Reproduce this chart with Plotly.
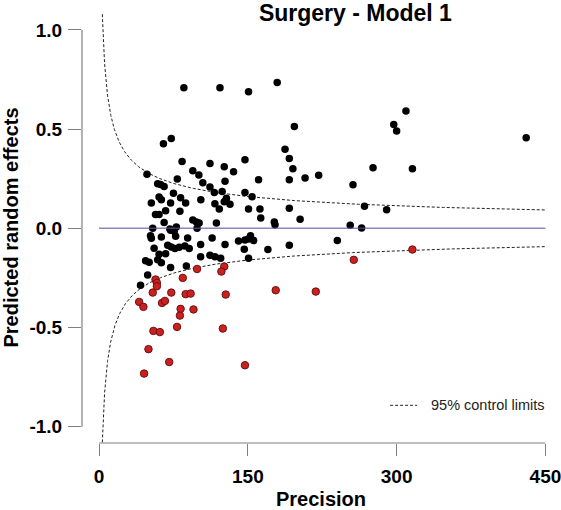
import numpy as np
import plotly.graph_objects as go

# ---- data ----
black_x = [85.5, 121.9, 150.7, 179.6, 196.9, 309.4, 297.1, 300.0, 430.6, 64.9, 72.8,
           187.5, 191.8, 195.4, 191.8, 207.7, 221.4, 276.2, 315.9, 256.0, 267.6, 289.9,
           147.1, 111.8, 126.2, 135.6, 83.7, 94.5, 100.6, 48.3, 78.9, 104.6, 127.0, 160.8,
           111.8, 59.1, 62.0, 65.6, 124.1, 116.2, 147.1, 75.0, 154.3, 60.5, 62.8, 82.2,
           102.6, 128.4, 127.6, 126.2, 52.7, 72.1, 87.3, 116.8, 132.0, 121.2, 150.7, 162.2,
           191.8, 67.1, 81.5, 56.9, 60.5, 163.0, 202.7, 94.5, 98.1, 65.6, 100.9, 118.3,
           176.7, 177.4, 253.2, 54.1, 71.4, 77.9, 98.8, 264.7, 72.1, 75.7, 51.9, 77.2,
           52.7, 62.8, 89.3, 114.0, 152.7, 150.5, 155.8, 140.6, 147.1, 240.2, 102.4, 127.0,
           191.8, 69.2, 72.8, 76.5, 80.8, 86.5, 90.9, 55.5, 146.4, 170.2, 67.1, 60.5, 111.8,
           116.8, 122.6, 102.4, 150.7, 59.1, 62.8, 46.9, 50.5, 88.0, 72.1, 49.0, 41.8]
black_y = [0.708, 0.708, 0.688, 0.735, 0.513, 0.591, 0.523, 0.490, 0.456, 0.426, 0.453,
           0.398, 0.352, 0.300, 0.245, 0.253, 0.267, 0.305, 0.300, 0.220, 0.111, 0.094,
           0.346, 0.327, 0.310, 0.285, 0.336, 0.290, 0.268, 0.272, 0.248, 0.230, 0.237, 0.245,
           0.208, 0.225, 0.221, 0.211, 0.186, 0.181, 0.181, 0.176, 0.159, 0.158, 0.144, 0.154,
           0.144, 0.151, 0.138, 0.134, 0.128, 0.128, 0.128, 0.124, 0.121, 0.097, 0.097, 0.097,
           0.101, 0.089, 0.086, 0.069, 0.069, 0.052, 0.045, 0.042, 0.032, 0.029, 0.027, 0.027,
           0.032, 0.018, 0.015, 0.000, -0.004, 0.007, 0.000, 0.002, -0.010, -0.015, -0.037, -0.040,
           -0.050, -0.044, -0.049, -0.049, -0.037, -0.054, -0.062, -0.064, -0.059, -0.062, -0.082, -0.082,
           -0.086, -0.086, -0.094, -0.102, -0.096, -0.089, -0.102, -0.101, -0.106, -0.107, -0.128, -0.131, -0.136,
           -0.144, -0.151, -0.144, -0.151, -0.158, -0.174, -0.163, -0.171, -0.190, -0.198, -0.235, -0.287]

red_x = [98.8, 126.2, 123.3, 56.9, 58.3, 58.3, 84.4, 54.1, 72.8, 87.3, 92.3, 127.7,
         178.1, 218.5, 256.8, 315.9, 40.4, 44.7, 63.5, 66.4, 82.2, 95.2, 81.5, 78.6,
         54.8, 61.3, 124.8, 49.8, 70.7, 147.1, 45.4]
red_y = [-0.205, -0.193, -0.218, -0.258, -0.275, -0.292, -0.250, -0.324, -0.324, -0.332, -0.329, -0.334,
         -0.312, -0.319, -0.159, -0.107, -0.371, -0.396, -0.376, -0.366, -0.406, -0.409, -0.440, -0.497,
         -0.517, -0.523, -0.505, -0.609, -0.674, -0.690, -0.732]

x_ticks = [0, 150, 300, 450]
y_ticks = [-1.0, -0.5, 0.0, 0.5, 1.0]
y_tick_labels = ["-1.0", "-0.5", "0.0", "0.5", "1.0"]
z_value = 1.96  # 95% control limits: +/- z / sqrt(precision)

FONT = "Arial, Liberation Sans, Helvetica, sans-serif"

prec = np.geomspace(3.3, 450, 400)
upper = z_value / np.sqrt(prec)

fig = go.Figure()
fig.add_trace(go.Scatter(x=prec, y=upper, mode="lines", showlegend=False,
                         line=dict(color="#222222", width=1, dash="3px,2px"), hoverinfo="skip"))
fig.add_trace(go.Scatter(x=prec, y=-upper, mode="lines", showlegend=False,
                         line=dict(color="#222222", width=1, dash="3px,2px"), hoverinfo="skip"))
fig.add_trace(go.Scatter(x=black_x, y=black_y, mode="markers", showlegend=False,
                         marker=dict(color="#000000", size=7.5, line=dict(width=0))))
fig.add_trace(go.Scatter(x=red_x, y=red_y, mode="markers", showlegend=False,
                         marker=dict(color="#cc1f1f", size=7.5, line=dict(color="#6e1212", width=1))))

shapes = [
    # zero reference line (above points)
    dict(type="line", xref="x", yref="y", x0=0, x1=450, y0=0, y1=0, layer="above",
         line=dict(color="rgba(85,85,170,0.7)", width=1.5)),
    # R-style detached axis lines
    dict(type="line", xref="x", yref="paper", x0=0, x1=450, y0=0, y1=0,
         line=dict(color="#808080", width=1.2)),
    dict(type="line", xref="paper", yref="y", x0=0, x1=0, y0=-1, y1=1,
         line=dict(color="#808080", width=1.2)),
    # legend sample
    dict(type="line", xref="x", yref="y", x0=293.4, x1=320.6, y0=-0.892, y1=-0.892,
         line=dict(color="#222222", width=1, dash="3px,2px")),
]

fig.update_layout(
    width=561, height=510,
    margin=dict(l=82, r=1, t=12, b=67),
    paper_bgcolor="white", plot_bgcolor="white",
    font=dict(family=FONT, color="black"),
    title=dict(text="<b>Surgery - Model 1</b>", x=0.572, xref="paper", xanchor="center",
               y=0.975, yref="container", yanchor="middle", automargin=False,
               font=dict(size=23, family=FONT, color="black")),
    shapes=shapes,
    annotations=[dict(text="95% control limits", x=332.7, y=-0.892, xref="x", yref="y",
                      xanchor="left", yanchor="middle", showarrow=False,
                      font=dict(size=14.5, family=FONT, color="#222222"))],
    showlegend=False,
)
fig.update_xaxes(range=[-17.2, 464.7], tickvals=x_ticks, ticks="outside", ticklen=12,
                 tickcolor="#808080", tickwidth=1.2, showline=False, showgrid=False,
                 zeroline=False, ticklabelstandoff=4, automargin=False,
                 ticklabeloverflow="allow",
                 tickfont=dict(size=19, family=FONT, color="black", weight="bold"),
                 title=dict(text="<b>Precision</b>", standoff=8,
                            font=dict(size=20, family=FONT, color="black")))
fig.update_yaxes(range=[-1.082, 1.09], tickvals=y_ticks, ticktext=y_tick_labels,
                 ticks="outside", ticklen=13, tickcolor="#808080", tickwidth=1.2,
                 showline=False, showgrid=False, zeroline=False, ticklabelstandoff=2,
                 automargin=False, ticklabeloverflow="allow",
                 tickfont=dict(size=19, family=FONT, color="black", weight="bold"),
                 title=dict(text="<b>Predicted random effects</b>", standoff=18,
                            font=dict(size=20, family=FONT, color="black")))

fig.write_html("out.html", config={"displayModeBar": False},
               post_script="document.body.style.margin='0';document.body.style.overflow='hidden';")
